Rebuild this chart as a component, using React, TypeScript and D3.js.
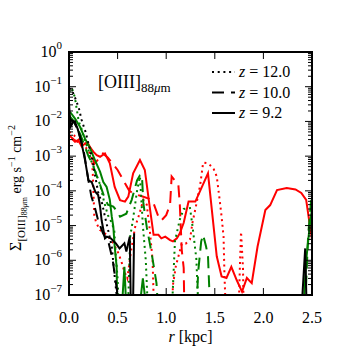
import React from "react";
import * as d3 from "d3";

// radial profiles: [r in kpc, surface brightness in erg s^-1 cm^-2]
const blackZ12: [number, number][] = [
  [0.0, 9e-2], [0.03, 8e-2], [0.06, 5e-2], [0.1, 2.5e-2], [0.13, 1.1e-2], [0.17, 5e-3],
  [0.2, 2.3e-3], [0.24, 8e-4], [0.27, 2.6e-4], [0.3, 9e-5], [0.34, 4.4e-5], [0.37, 1.8e-5],
  [0.41, 6e-6], [0.44, 2.5e-6], [0.47, 3.4e-7], [0.49, 1e-7], [0.51, 1e-8],
];
const blackZ10: [number, number][] = [
  [0.0, 1.2e-2], [0.05, 1e-2], [0.1, 5e-3], [0.15, 1.5e-3], [0.2, 2e-4], [0.23, 7e-5],
  [0.27, 3e-5], [0.3, 1.4e-5], [0.35, 6e-6], [0.41, 3e-6], [0.45, 1e-6], [0.47, 4e-7],
  [0.5, 1e-7], [0.52, 1e-8],
];
const blackZ92: [number, number][] = [
  [0.0, 3.5e-2], [0.015, 7e-3], [0.035, 9e-3], [0.06, 1e-2], [0.09, 6e-3], [0.13, 2.3e-3],
  [0.165, 7.7e-4], [0.2, 2e-4], [0.233, 1.8e-4], [0.27, 9.5e-5], [0.3, 7.6e-5], [0.32, 3.5e-5],
  [0.336, 1.4e-5], [0.37, 4.3e-6], [0.39, 4.8e-6], [0.43, 4.3e-6], [0.48, 3.1e-6], [0.52, 2.2e-6],
  [0.57, 3.1e-6], [0.59, 1.8e-6], [0.625, 4.8e-6], [0.64, 1e-8], [0.655, 1e-8], [0.67, 6e-6],
  [0.68, 0], [2.36, 0], [2.38, 1e-8], [2.43, 2.2e-6], [2.45, 1e-8],
];

const greenZ12: [number, number][] = [
  [0.0, 7e-2], [0.03, 9e-2], [0.06, 5e-2], [0.1, 1e-2], [0.13, 6e-3], [0.17, 2.5e-3],
  [0.2, 1.5e-3], [0.23, 7e-4], [0.26, 4.5e-4], [0.28, 3e-4], [0.32, 1.5e-4], [0.36, 5e-5],
  [0.4, 2e-5], [0.44, 1.2e-5], [0.466, 7e-6], [0.48, 1.5e-6], [0.5, 3e-7], [0.52, 1e-8],
  [0.6, 1e-8], [0.63, 5e-6], [0.655, 1.3e-5], [0.7, 1e-4], [0.73, 2.6e-4], [0.76, 1e-5],
  [0.79, 1e-6], [0.82, 1e-8], [1.05, 1e-8], [1.09, 3.5e-6], [1.14, 1.5e-5], [1.18, 3e-5],
  [1.245, 3.2e-5], [1.27, 1e-5], [1.31, 1.1e-6], [1.34, 1e-8],
];
const greenZ10: [number, number][] = [
  [0.0, 1.5e-2], [0.04, 1.1e-2], [0.08, 7e-3], [0.12, 4e-3], [0.16, 2e-3], [0.2, 1e-3],
  [0.24, 6e-4], [0.28, 3e-4], [0.32, 1.5e-4], [0.36, 7e-5], [0.4, 4e-5], [0.456, 3.5e-5],
  [0.5, 2.5e-5], [0.525, 1.8e-5], [0.59, 2.2e-5], [0.645, 5.5e-5], [0.7, 2e-4], [0.73, 2.8e-4],
  [0.75, 2.9e-4], [0.765, 4.4e-5], [0.8, 9e-6], [0.85, 1.6e-6], [0.9, 2.2e-7], [0.93, 1e-8],
  [1.3, 1e-8], [1.33, 5e-7], [1.36, 3.5e-6], [1.38, 5.4e-6], [1.41, 2.5e-6], [1.43, 1.3e-6],
  [1.46, 1e-8], [2.42, 1e-8], [2.46, 5e-6], [2.49, 5e-5], [2.5, 7e-5],
];
const greenZ92: [number, number][] = [
  [0.01, 1.9e-2], [0.062, 1.2e-2], [0.113, 7e-3], [0.165, 3.2e-3], [0.216, 1.7e-3],
  [0.267, 7.7e-4], [0.32, 3.5e-4], [0.353, 1.8e-4], [0.387, 1.3e-4], [0.42, 5.5e-5],
  [0.44, 1.8e-5], [0.456, 9.3e-6], [0.47, 2.5e-6], [0.49, 6.6e-7], [0.5, 1e-8], [0.53, 1e-8],
  [0.57, 6.5e-7], [0.6, 1e-8], [0.7, 1e-8], [0.76, 3e-7], [0.82, 1e-8], [0.84, 0], [2.38, 0],
  [2.4, 1e-8], [2.44, 1e-6], [2.48, 1.2e-5], [2.5, 3e-5],
];

const redZ12: [number, number][] = [
  [0.0, 5e-3], [0.05, 4e-3], [0.1, 3e-3], [0.15, 2e-3], [0.2, 1.5e-3], [0.237, 8e-4],
  [0.245, 3e-4], [0.26, 2e-5], [0.28, 1.2e-5], [0.32, 7.4e-6], [0.39, 5.4e-6], [0.456, 3.1e-6],
  [0.5, 1.8e-6], [0.535, 1e-6], [0.57, 4.7e-7], [0.6, 3e-7], [0.64, 2e-6], [0.68, 9e-6],
  [0.72, 2e-5], [0.765, 5.5e-5], [0.8, 4e-5], [0.83, 8e-6], [0.86, 1e-6], [0.88, 1e-8],
  [1.05, 1e-8], [1.07, 2e-7], [1.1, 7e-7], [1.16, 3e-6], [1.2, 3e-6], [1.245, 4e-6],
  [1.27, 1.2e-5], [1.3, 3e-5], [1.35, 1.5e-4], [1.38, 6.5e-4], [1.43, 6.2e-4], [1.485, 4.5e-4],
  [1.52, 2.6e-4], [1.55, 5.5e-5], [1.57, 1.8e-5], [1.59, 4.8e-6], [1.6, 3.4e-7], [1.62, 1e-8],
  [1.74, 1e-8], [1.76, 1e-6], [1.77, 6.6e-6], [1.79, 6e-7], [1.8, 1e-8],
];
const redZ10: [number, number][] = [
  [0.0, 4e-3], [0.05, 3e-3], [0.1, 2.5e-3], [0.15, 2.2e-3], [0.19, 2.5e-3], [0.226, 1.6e-3],
  [0.26, 6e-4], [0.3, 8e-4], [0.35, 1.2e-3], [0.4, 9e-4], [0.45, 6e-4], [0.5, 4e-4],
  [0.56, 2e-4], [0.62, 1e-4], [0.68, 8e-5], [0.75, 7e-5], [0.82, 6e-5], [0.87, 4.4e-5],
  [0.92, 1.8e-5], [0.95, 1.4e-5], [1.0, 2e-5], [1.04, 4e-5], [1.056, 2.6e-4], [1.1, 1.8e-4],
  [1.125, 1.5e-4], [1.14, 4e-5], [1.16, 2e-6], [1.18, 6e-7], [1.19, 1e-8],
];
const redZ92: [number, number][] = [
  [0.027, 3.2e-3], [0.062, 2.6e-3], [0.096, 2.9e-3], [0.13, 1.9e-3], [0.165, 2.3e-3],
  [0.2, 2.1e-3], [0.25, 1.35e-3], [0.285, 1.07e-3], [0.32, 9.6e-4], [0.37, 1.2e-3],
  [0.42, 6.2e-4], [0.47, 1.3e-4], [0.525, 5.4e-5], [0.576, 4.9e-5], [0.61, 6.8e-5],
  [0.66, 3.2e-4], [0.73, 7.7e-4], [0.78, 4.0e-4], [0.83, 3.5e-5], [0.87, 5.4e-6],
  [0.92, 5.4e-6], [0.95, 4.3e-6], [0.99, 4.8e-6], [1.04, 3.8e-6], [1.07, 3.5e-6],
  [1.11, 4.3e-6], [1.14, 6.0e-6], [1.18, 1.2e-5], [1.23, 4.9e-5], [1.3, 4.9e-5],
  [1.43, 3.2e-4], [1.52, 1.3e-6], [1.57, 3.4e-7], [1.62, 3.1e-7], [1.67, 6.5e-7],
  [1.725, 2.7e-7], [1.78, 1.25e-7], [1.83, 3.1e-7], [1.88, 2.2e-7], [1.94, 2.5e-6],
  [2.02, 2.8e-5], [2.07, 3.9e-5], [2.14, 1.05e-4], [2.24, 1.2e-4], [2.33, 1.1e-4],
  [2.39, 8.7e-5], [2.44, 5.5e-5], [2.48, 9.3e-6], [2.5, 4e-6],
];

const xTicks = [0.0, 0.5, 1.0, 1.5, 2.0, 2.5];
const yExponents = [0, -1, -2, -3, -4, -5, -6, -7];
const legendLabels = ["12.0", "10.0", "9.2"];

const DOTTED = "2,3.7";
const DASHED = "12,7";
const styles = [DOTTED, DASHED, "none"];

const W = 347;
const H = 347;
const left = 69, right = 312, top = 52, bottom = 295;
const font = "'Liberation Serif', 'Times New Roman', serif";

export default function App() {
  const x = d3.scaleLinear().domain([0, 2.5]).range([left, right]);
  const y = d3.scaleLog().domain([1e-7, 1]).range([bottom, top]);

  const line = d3
    .line<[number, number]>()
    .defined((d) => d[1] > 0)
    .x((d) => x(d[0]))
    .y((d) => y(d[1]));

  const series = [
    { data: redZ12, color: "#ff0000", dash: DOTTED },
    { data: redZ10, color: "#ff0000", dash: DASHED },
    { data: redZ92, color: "#ff0000", dash: "none" },
    { data: greenZ12, color: "#008000", dash: DOTTED },
    { data: greenZ10, color: "#008000", dash: DASHED },
    { data: greenZ92, color: "#008000", dash: "none" },
    { data: blackZ12, color: "#000000", dash: DOTTED },
    { data: blackZ10, color: "#000000", dash: DASHED },
    { data: blackZ92, color: "#000000", dash: "none" },
  ];

  const minor: number[] = [];
  for (let e = -7; e < 0; e++) {
    for (let k = 2; k <= 9; k++) minor.push(k * Math.pow(10, e));
  }

  return (
    <svg
      width={W}
      height={H}
      style={{ position: "absolute", left: 0, top: 0, background: "#fff", fontFamily: font }}
    >
      <defs>
        <clipPath id="plot">
          <rect x={left} y={top} width={right - left} height={bottom - top} />
        </clipPath>
      </defs>

      <g clipPath="url(#plot)">
        {series.map((s, i) => (
          <path
            key={i}
            d={line(s.data) || ""}
            fill="none"
            stroke={s.color}
            strokeWidth={2}
            strokeDasharray={s.dash}
            strokeLinejoin="miter"
          />
        ))}
      </g>

      {/* ticks, pointing inward on all four sides */}
      <g stroke="#000" strokeWidth={1}>
        {xTicks.map((t) => (
          <g key={"xt" + t}>
            <line x1={x(t)} x2={x(t)} y1={bottom} y2={bottom - 7} />
            <line x1={x(t)} x2={x(t)} y1={top} y2={top + 7} />
          </g>
        ))}
        {yExponents.map((e) => (
          <g key={"yt" + e}>
            <line x1={left} x2={left + 7} y1={y(Math.pow(10, e))} y2={y(Math.pow(10, e))} />
            <line x1={right} x2={right - 7} y1={y(Math.pow(10, e))} y2={y(Math.pow(10, e))} />
          </g>
        ))}
        {minor.map((v, i) => (
          <g key={"ym" + i}>
            <line x1={left} x2={left + 4} y1={y(v)} y2={y(v)} />
            <line x1={right} x2={right - 4} y1={y(v)} y2={y(v)} />
          </g>
        ))}
      </g>

      <rect
        x={left}
        y={top}
        width={right - left}
        height={bottom - top}
        fill="none"
        stroke="#000"
        strokeWidth={2}
      />

      {/* tick labels */}
      {xTicks.map((t) => (
        <text key={"xl" + t} x={x(t)} y={bottom + 28} fontSize={16} textAnchor="middle">
          {t.toFixed(1)}
        </text>
      ))}
      {yExponents.map((e) => (
        <text key={"yl" + e} x={62} y={y(Math.pow(10, e)) + 5} fontSize={16} textAnchor="end">
          10
          <tspan dy={-8} fontSize={11}>
            {e === 0 ? "0" : "\u2212" + Math.abs(e)}
          </tspan>
        </text>
      ))}

      {/* axis titles */}
      <text x={(left + right) / 2} y={342} fontSize={16} textAnchor="middle">
        <tspan fontStyle="italic">r</tspan> [kpc]
      </text>
      <text transform="translate(21,188) rotate(-90)" fontSize={16} textAnchor="middle">
        Σ
        <tspan fontSize={11} dy={4}>[OIII]</tspan>
        <tspan fontSize={8} dy={2}>88</tspan>
        <tspan fontSize={8} fontStyle="italic">μ</tspan>
        <tspan fontSize={8}>m</tspan>
        <tspan fontSize={14} dy={-6}> erg s</tspan>
        <tspan fontSize={10} dy={-6}>−1</tspan>
        <tspan fontSize={14} dy={6}> cm</tspan>
        <tspan fontSize={10} dy={-6}>−2</tspan>
      </text>

      {/* line label */}
      <text x={98} y={88} fontSize={18}>
        [OIII]
        <tspan fontSize={13} dy={4}>88</tspan>
        <tspan fontSize={13} fontStyle="italic">μ</tspan>
        <tspan fontSize={13}>m</tspan>
      </text>

      {/* legend */}
      {legendLabels.map((lab, i) => {
        const ly = 72 + i * 20.5;
        return (
          <g key={"lg" + i}>
            <line
              x1={212}
              x2={235}
              y1={ly}
              y2={ly}
              stroke="#000"
              strokeWidth={2}
              strokeDasharray={styles[i]}
            />
            <text x={239} y={ly + 5} fontSize={16}>
              <tspan fontStyle="italic">z</tspan> = {lab}
            </text>
          </g>
        );
      })}
    </svg>
  );
}
